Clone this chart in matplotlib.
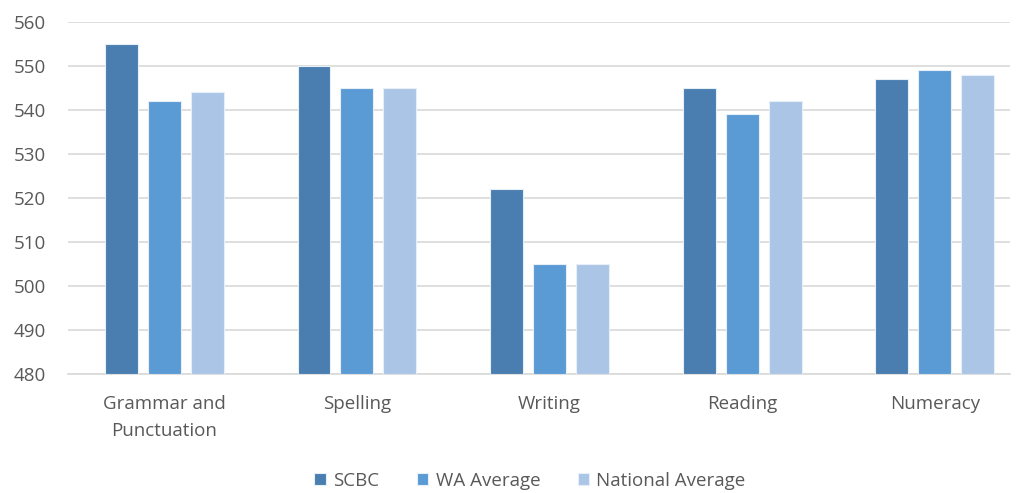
import numpy as np
import matplotlib
matplotlib.use('Agg')
from matplotlib import pyplot as plt

# Data
categories = ['Grammar and\nPunctuation', 'Spelling', 'Writing', 'Reading', 'Numeracy']
scbc = [555, 550, 522, 545, 547]
wa_average = [542, 545, 505, 539, 549]
national_average = [544, 545, 505, 542, 548]
series_names = ['SCBC', 'WA Average', 'National Average']
colors = ['#4a7eb0', '#5b9bd5', '#abc5e6']

plt.rcParams['font.family'] = ['Open Sans', 'DejaVu Sans']

fig = plt.figure(figsize=(10.21, 4.93), dpi=100)
ax = fig.add_axes([68 / 1021, 1 - 374 / 493, (1010 - 68) / 1021, (374 - 22) / 493])

x = np.arange(len(categories))
width = 0.171
step = 0.223
for i, (vals, name, col) in enumerate(zip([scbc, wa_average, national_average], series_names, colors)):
    ax.bar(x + (i - 1) * step, np.array(vals) - 480, bottom=480, width=width,
           color=col, edgecolor='#e6eef8', linewidth=0.8, label=name, zorder=3)

ax.set_ylim(480, 560)
ax.set_yticks(range(480, 561, 10))
ax.set_xlim(-0.5, 4.39)
ax.set_xticks(x)
ax.set_xticklabels(categories, fontsize=13.5, color='#595959', linespacing=1.65)
ax.tick_params(axis='y', labelsize=13.5, labelcolor='#595959', length=0, pad=16)
ax.tick_params(axis='x', length=0, pad=15)
ax.grid(axis='y', color='#d9d9d9', linewidth=1.2, zorder=0)
for s in ['top', 'right', 'left']:
    ax.spines[s].set_visible(False)
ax.spines['bottom'].set_color('#d9d9d9')
ax.spines['bottom'].set_linewidth(1.2)

leg = fig.legend(loc='center', bbox_to_anchor=(530 / 1021, 1 - 481 / 493), ncol=3, frameon=False,
                 fontsize=13.5, handlelength=0.6, handleheight=0.6, handletextpad=0.4, columnspacing=2.0)
for t in leg.get_texts():
    t.set_color('#595959')

plt.savefig('out.png', dpi=100)
